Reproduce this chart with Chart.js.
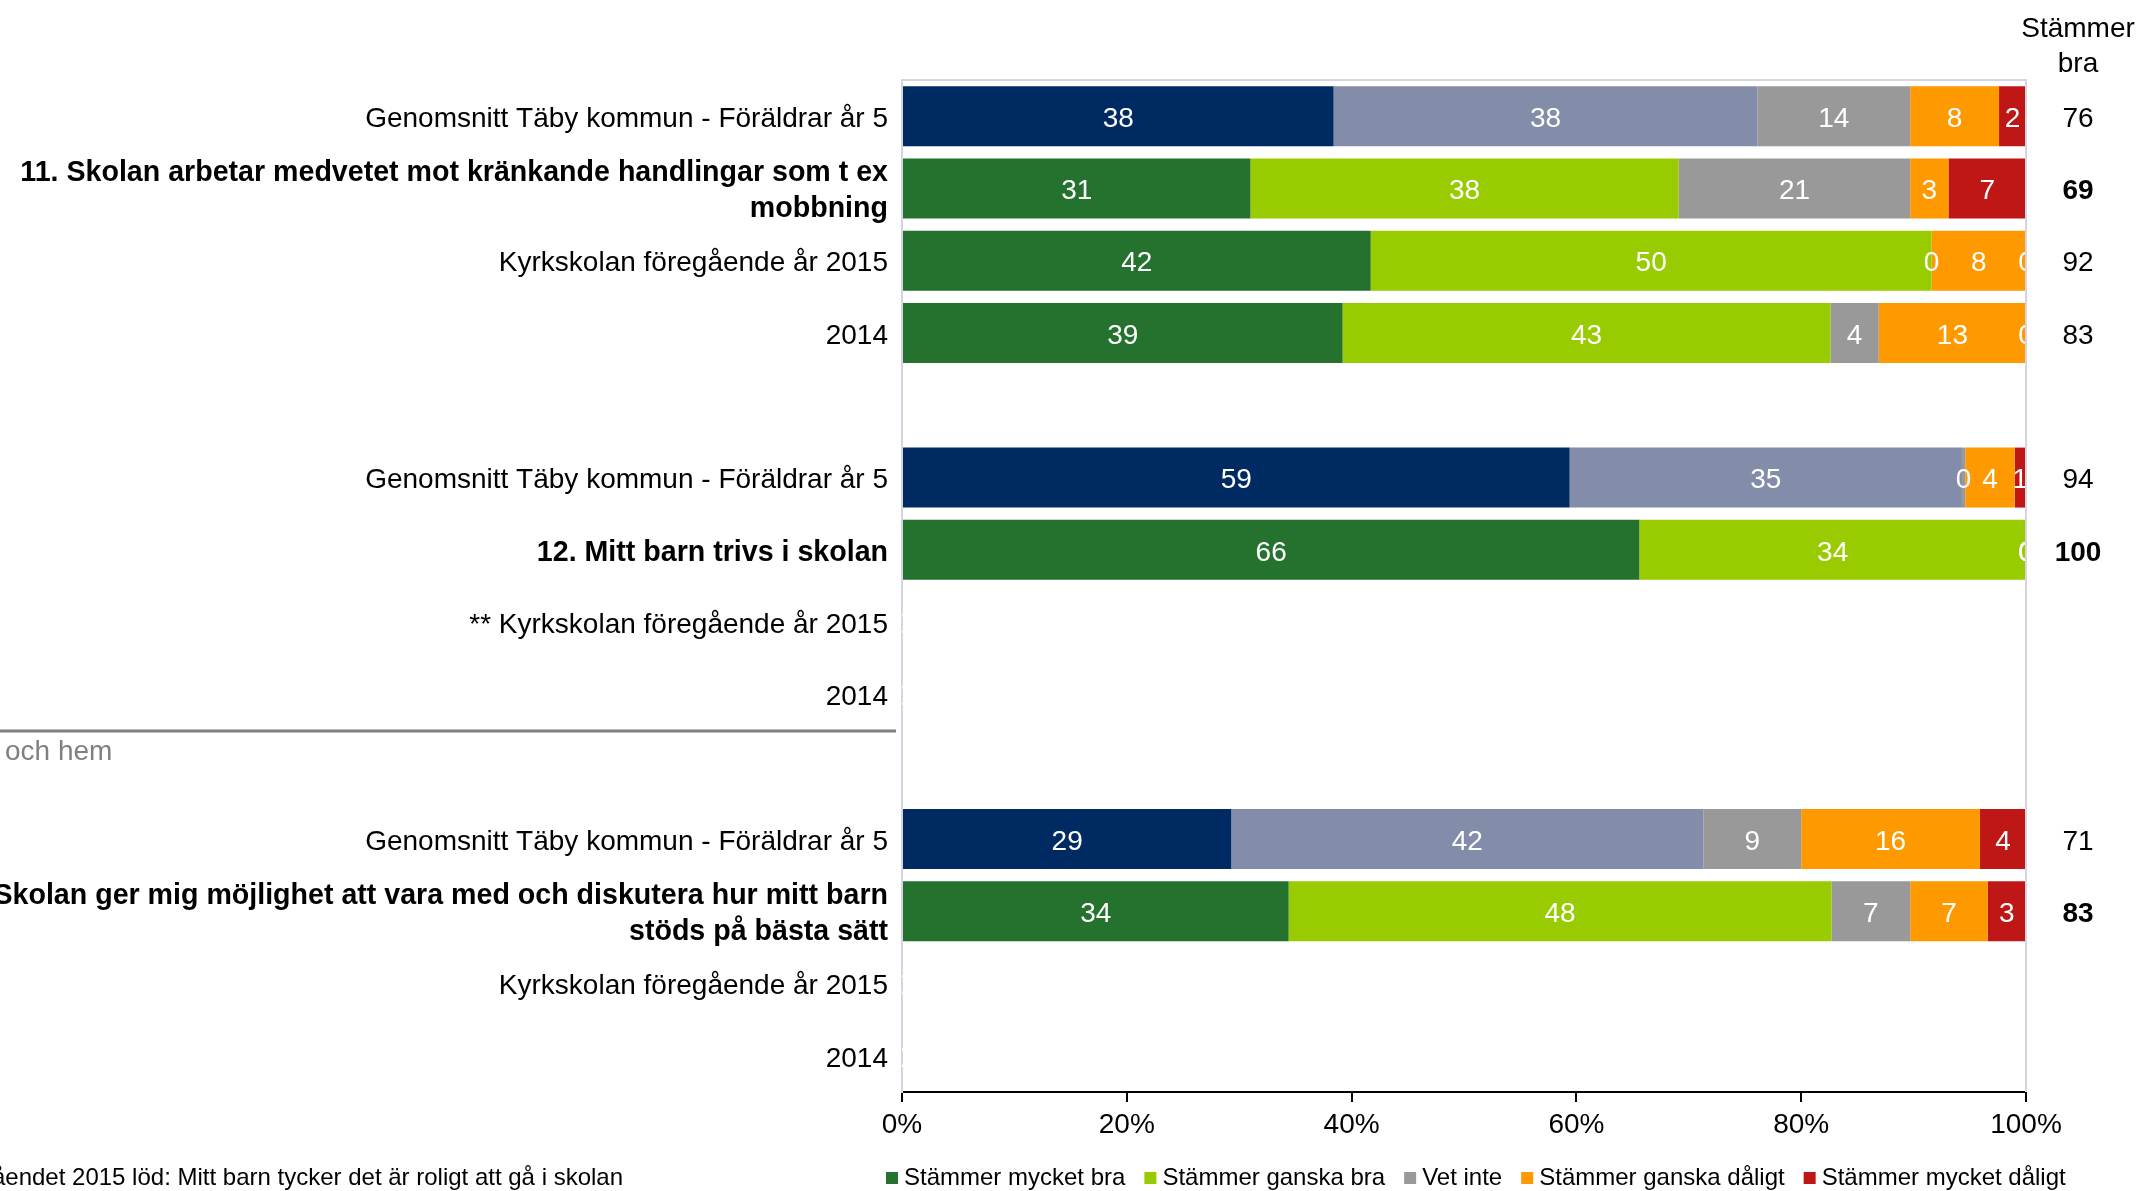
<!DOCTYPE html>
<html>
<head>
<meta charset="utf-8">
<script src="https://cdn.jsdelivr.net/npm/chart.js@4.4.1/dist/chart.umd.min.js"></script>
<style>
    html, body { margin: 0; padding: 0; background: #fff; }
    #wrap { width: 2139px; height: 1191px; position: relative; }
</style>
</head>
<body>
<div id="wrap"><canvas id="surveyChart"></canvas></div>
<script>
/* ------------------------------
   DATA
--------------------------------*/

const categories = [
    "Genomsnitt Täby kommun - Föräldrar år 5",
    ["11. Skolan arbetar medvetet mot kränkande handlingar som t ex", "mobbning"],
    "Kyrkskolan föregående år 2015",
    "2014",
    "",
    "Genomsnitt Täby kommun - Föräldrar år 5",
    "12. Mitt barn trivs i skolan",
    "** Kyrkskolan föregående år 2015",
    "2014",
    "",
    "Genomsnitt Täby kommun - Föräldrar år 5",
    ["13. Skolan ger mig möjlighet att vara med och diskutera hur mitt barn", "stöds på bästa sätt"],
    "Kyrkskolan föregående år 2015",
    "2014"
];

const seriesNames = ["Stämmer mycket bra", "Stämmer ganska bra", "Vet inte", "Stämmer ganska dåligt", "Stämmer mycket dåligt"];

const mycketBra    = [38.4, 31.0, 41.7, 39.2, null, 59.4, 65.6, 0, 0, null, 29.3, 34.4, 0, 0];
const ganskaBra    = [37.7, 38.1, 49.9, 43.4, null, 34.9, 34.4, 0, 0, null, 42.0, 48.3, 0, 0];
const vetInte      = [13.6, 20.6, 0,    4.3,  null, 0.3,  0,    0, 0, null, 8.7,  7.0,  0, 0];
const ganskaDaligt = [7.9,  3.4,  8.4,  13.1, null, 4.4,  0,    0, 0, null, 15.9, 6.9,  0, 0];
const mycketDaligt = [2.4,  6.9,  0,    0,    null, 1.0,  0,    0, 0, null, 4.1,  3.4,  0, 0];

const stammerBra = [76, 69, 92, 83, null, 94, 100, null, null, null, 71, 83, null, null];

const xTicks = [0, 20, 40, 60, 80, 100];

/* ------------------------------
   STYLE
--------------------------------*/

const FONT = "'Liberation Sans', Arial, sans-serif";
const colors = ["#25722E", "#99CC00", "#999999", "#FF9900", "#BF1616"];
const avgColors = ["#002B62", "#838CA8"];

// question rows are the ones with a number in front
const isQuestion = categories.map(c => /^\d+\./.test(Array.isArray(c) ? c[0] : c));
const isAverage = categories.map(c => typeof c === "string" && c.startsWith("Genomsnitt"));

function barColors(seriesIdx) {
    return categories.map((c, i) =>
        (isAverage[i] && seriesIdx < 2) ? avgColors[seriesIdx] : colors[seriesIdx]);
}

const allSeries = [mycketBra, ganskaBra, vetInte, ganskaDaligt, mycketDaligt];

/* ------------------------------
   PLUGINS
--------------------------------*/

// white value labels in the middle of each segment
const segmentLabels = {
    id: "segmentLabels",
    afterDatasetsDraw(chart) {
        const ctx = chart.ctx;
        const area = chart.chartArea;
        ctx.save();
        ctx.beginPath();
        ctx.rect(area.left, area.top, area.right - area.left, area.bottom - area.top);
        ctx.clip();
        ctx.font = "28px " + FONT;
        ctx.fillStyle = "#fff";
        ctx.textAlign = "center";
        ctx.textBaseline = "middle";
        chart.data.datasets.forEach((ds, di) => {
            chart.getDatasetMeta(di).data.forEach((bar, i) => {
                const v = ds.data[i];
                if (v === null || v === undefined) return;
                ctx.fillText(String(Math.round(v)), (bar.x + bar.base) / 2, bar.y + 3);
            });
        });
        ctx.restore();
    }
};

// frame, right-hand column, legend and the stray slide bits
const extras = {
    id: "extras",
    afterDraw(chart) {
        const ctx = chart.ctx;
        const area = chart.chartArea;
        const yScale = chart.scales.y;
        ctx.save();

        // light frame top / right
        ctx.strokeStyle = "#D5D5E2";
        ctx.lineWidth = 2;
        ctx.beginPath();
        ctx.moveTo(area.left, area.top);
        ctx.lineTo(area.right, area.top);
        ctx.lineTo(area.right, area.bottom);
        ctx.stroke();

        // "Stämmer bra" column
        const colX = 2078;
        ctx.fillStyle = "#000";
        ctx.textAlign = "center";
        ctx.textBaseline = "middle";
        ctx.font = "28px " + FONT;
        ctx.fillText("Stämmer", colX, 29);
        ctx.fillText("bra", colX, 64);
        stammerBra.forEach((v, i) => {
            if (v === null) return;
            ctx.font = (isQuestion[i] ? "bold " : "") + "28px " + FONT;
            ctx.fillText(String(v), colX, yScale.getPixelForValue(i) + 3);
        });

        // legend
        ctx.font = "24px " + FONT;
        ctx.textAlign = "left";
        let lx = 886;
        const ly = 1178;
        seriesNames.forEach((name, i) => {
            ctx.fillStyle = colors[i];
            ctx.fillRect(lx, ly - 6, 12, 12);
            ctx.fillStyle = "#000";
            ctx.fillText(name, lx + 18, ly);
            lx += 18 + ctx.measureText(name).width + 19;
        });

        // footnote (cut off at the left edge)
        ctx.textAlign = "right";
        ctx.fillText("** Påståendet 2015 löd: Mitt barn tycker det är roligt att gå i skolan", 623, 1178);

        // leftover line and text from the slide behind
        ctx.strokeStyle = "#808080";
        ctx.lineWidth = 3;
        ctx.beginPath();
        ctx.moveTo(0, 731);
        ctx.lineTo(896, 731);
        ctx.stroke();
        ctx.fillStyle = "#808080";
        ctx.textAlign = "left";
        ctx.font = "28px " + FONT;
        ctx.fillText("och hem", 5, 752);

        ctx.restore();
    }
};

/* ------------------------------
   CHART
--------------------------------*/

Chart.defaults.font.family = FONT;
Chart.defaults.color = "#000";

let surveyCtx = document.getElementById("surveyChart");

let surveyChart = new Chart(surveyCtx, {
    type: "bar",
    data: {
        labels: categories,
        datasets: allSeries.map((vals, i) => ({
            label: seriesNames[i],
            data: vals,
            backgroundColor: barColors(i),
            borderWidth: 0,
            barPercentage: 0.83,
            categoryPercentage: 1.0
        }))
    },
    options: {
        indexAxis: "y",
        responsive: true,
        maintainAspectRatio: false,
        animation: false,
        layout: { padding: { left: 0, right: 113, top: 80, bottom: 0 } },
        plugins: {
            legend: { display: false },
            tooltip: { enabled: false }
        },
        scales: {
            x: {
                stacked: true,
                min: 0,
                max: 100,
                afterBuildTicks: s => { s.ticks = xTicks.map(v => ({ value: v })); },
                afterFit: s => { s.height = 99; },
                ticks: {
                    font: { size: 28 },
                    color: "#000",
                    padding: 6,
                    maxRotation: 0,
                    callback: v => v + "%"
                },
                grid: {
                    drawOnChartArea: false,
                    drawTicks: true,
                    tickLength: 10,
                    color: "#000",
                    lineWidth: 2
                },
                border: { color: "#000", width: 2 }
            },
            y: {
                stacked: true,
                afterFit: s => { s.width = 902; },
                ticks: {
                    autoSkip: false,
                    padding: 6,
                    labelOffset: 3,
                    color: "#000",
                    font: ctx => ({
                        size: isQuestion[ctx.index] ? 28.6 : 28,
                        weight: isQuestion[ctx.index] ? "bold" : "normal",
                        lineHeight: 1.27
                    })
                },
                grid: { display: false },
                border: { color: "#D5D5E2", width: 2 }
            }
        }
    },
    plugins: [segmentLabels, extras]
});
</script>
</body>
</html>
